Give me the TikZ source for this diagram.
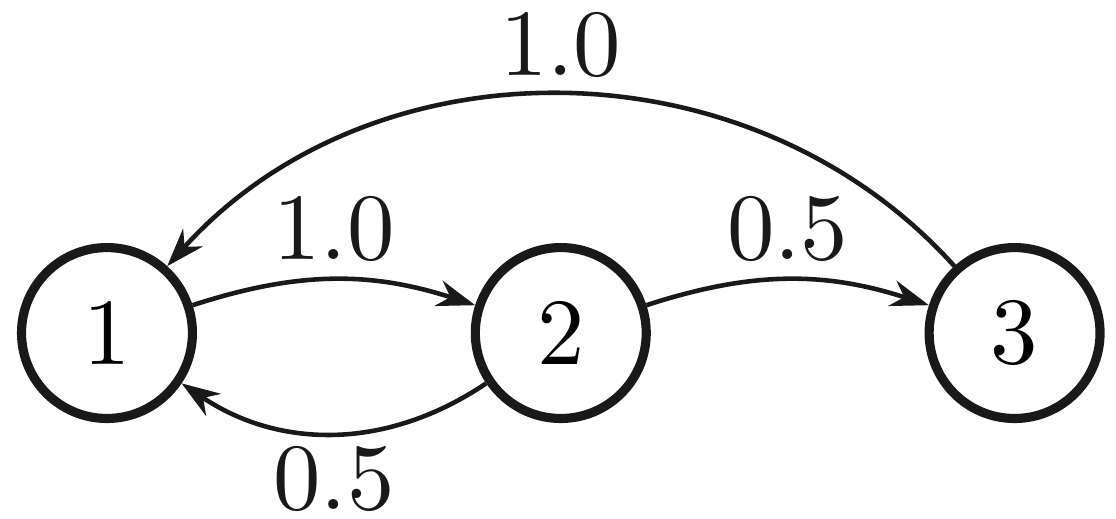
\documentclass[tikz,border=0pt]{standalone}
\usepackage{tikz}
\usetikzlibrary{shapes,arrows,arrows.meta}
\font\statefont="[lmroman10-regular.otf]" at 20.74pt
\tikzstyle{state} = [circle, line width=2pt, minimum size=37.4pt, inner sep=0pt, text centered, draw=black!90, fill=white, font=\statefont]
\tikzstyle{arrow} = [line width=1pt, draw=black!90, ->, >={Stealth[length=8.4pt,width=5.8pt]}]
\tikzstyle{weight} = [font=\statefont, inner sep=3.4pt, text=black!90]

\begin{document}
\begin{tikzpicture}[node distance=99.3pt]
\useasboundingbox (-23.41pt,-40.48pt) rectangle (220.79pt,72.87pt);
% nodes
\node (s1) [state] {1};
\node (s2) [state, right of=s1] {2};
\node (s3) [state, right of=s2] {3};

% edges
\draw [arrow] (s1) to[bend left=18] node[weight, above] {1.0} (s2);
\draw [arrow] (s2) to[bend left=18] node[weight, above] {0.5} (s3);
\draw [arrow] (s2) to[bend left=34] node[weight, below, inner ysep=0pt, yshift=-2.4pt] {0.5} (s1);
\draw [arrow] (s3) to[bend right=48] node[weight, above] {1.0} (s1);

\end{tikzpicture}
\end{document}
